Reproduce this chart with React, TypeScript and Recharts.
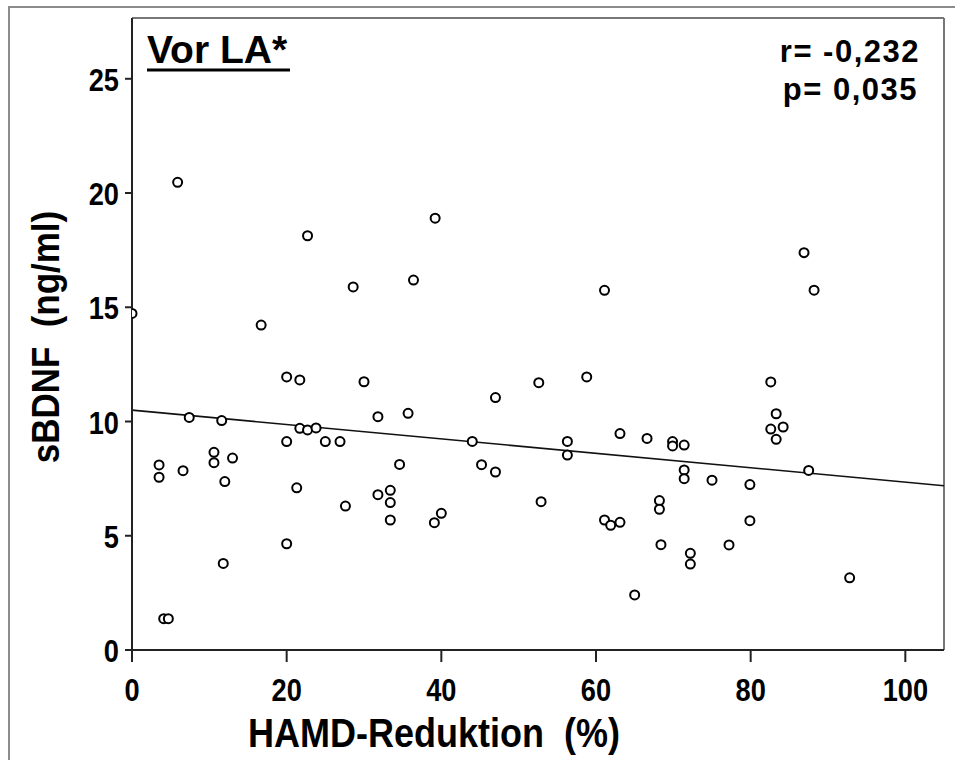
import { ReferenceLine, Scatter, ScatterChart, XAxis, YAxis } from 'recharts';

// HAMD reduction (%) per patient
const hamdReduction = [
    0, 3.5, 3.5, 4.1, 4.7, 5.9, 6.6, 7.4, 10.6, 10.6, 11.6, 11.8, 12.0, 13.0, 16.7, 20.0, 20.0, 20.0, 21.3, 21.7,
    21.7, 22.7, 22.7, 23.8, 25.0, 26.9, 27.6, 28.6, 30.0, 31.8, 31.8, 33.4, 33.4, 33.4, 34.6, 35.7, 36.4, 39.1, 39.2,
    40.0, 44.0, 45.2, 47.0, 47.0, 52.6, 52.9, 56.3, 56.3, 58.8, 61.1, 61.1, 61.9, 63.1, 63.1, 65.0, 66.6, 68.2, 68.2,
    68.4, 69.9, 69.9, 71.4, 71.4, 71.4, 72.2, 72.2, 75.0, 77.2, 79.9, 79.9, 82.6, 82.6, 83.3, 83.3, 84.2, 86.9, 87.5,
    88.2, 92.8,
];

// serum BDNF (ng/ml) before treatment
const sBdnf = [
    14.73, 8.1, 7.56, 1.37, 1.37, 20.47, 7.85, 10.18, 8.65, 8.2, 10.04, 3.79, 7.37, 8.4, 14.22, 11.95, 9.12, 4.65, 7.1,
    11.82, 9.7, 18.13, 9.63, 9.72, 9.12, 9.12, 6.3, 15.89, 11.74, 10.21, 6.8, 6.99, 6.45, 5.69, 8.12, 10.36, 16.19,
    5.57, 18.9, 5.98, 9.13, 8.11, 11.05, 7.79, 11.7, 6.49, 9.13, 8.53, 11.95, 15.74, 5.69, 5.46, 9.47, 5.59, 2.41, 9.26,
    6.54, 6.16, 4.61, 9.12, 8.93, 8.97, 7.88, 7.5, 4.23, 3.76, 7.43, 4.6, 7.24, 5.66, 11.73, 9.67, 10.34, 9.22, 9.76,
    17.39, 7.86, 15.75, 3.16,
];

const xTicks = [0, 20, 40, 60, 80, 100];
const yTicks = [0, 5, 10, 15, 20, 25];
const fitLine = [
    { x: 0, y: 10.5 },
    { x: 105, y: 7.19 },
];

const points = hamdReduction.map((x, i) => ({ x, y: sBdnf[i] }));

const FONT = '"Liberation Sans", Arial, sans-serif';

const Ring = (props: any) => (
    <circle cx={props.cx} cy={props.cy} r={4.5} fill="#fff" stroke="#000" strokeWidth={2} />
);

// condensed bold tick labels like the SPSS output
const XTick = ({ x, y, payload }: any) => (
    <g transform={`translate(${x},${y})`}>
        <text transform="scale(0.85,1)" textAnchor="middle" dy="0.71em" fontSize={32} fontWeight={700} fontFamily={FONT} fill="#000">
            {payload.value}
        </text>
    </g>
);

const YTick = ({ x, y, payload }: any) => (
    <g transform={`translate(${x},${y})`}>
        <text transform="scale(0.85,1)" textAnchor="end" dy="0.38em" fontSize={32} fontWeight={700} fontFamily={FONT} fill="#000">
            {payload.value}
        </text>
    </g>
);

const App = () => {
    return (
        <div style={{ position: 'absolute', left: 0, top: 0, width: 955, height: 760, background: '#fff' }}>
            <div
                style={{
                    position: 'absolute',
                    left: 8,
                    top: 6,
                    width: 947,
                    height: 754,
                    borderTop: '2px solid #8c8c8c',
                    borderLeft: '2px solid #8c8c8c',
                    boxSizing: 'border-box',
                }}
            />
            <ScatterChart
                width={955}
                height={760}
                margin={{ top: 18, right: 11, bottom: 50, left: 72 }}
                style={{ position: 'absolute', left: 0, top: 0 }}
            >
                <XAxis
                    type="number"
                    dataKey="x"
                    domain={[0, 105]}
                    ticks={xTicks}
                    allowDataOverflow
                    height={60}
                    tickSize={12}
                    tickMargin={16}
                    stroke="#222"
                    strokeWidth={2}
                    tick={<XTick />}
                />
                <YAxis
                    type="number"
                    dataKey="y"
                    domain={[0, 27.66]}
                    ticks={yTicks}
                    allowDataOverflow
                    width={60}
                    tickSize={7}
                    tickMargin={6}
                    stroke="#222"
                    strokeWidth={2}
                    tick={<YTick />}
                />
                <ReferenceLine y={27.66} stroke="#777" strokeWidth={2} />
                <ReferenceLine x={105} stroke="#777" strokeWidth={2} />
                <ReferenceLine segment={fitLine} stroke="#111" strokeWidth={1.6} />
                <Scatter data={points} shape={Ring} isAnimationActive={false} />
            </ScatterChart>
            <svg width={955} height={760} style={{ position: 'absolute', left: 0, top: 0, pointerEvents: 'none' }}>
                <g fontFamily={FONT} fontWeight={700} fill="#000">
                    <text x={147} y={63} fontSize={39}>
                        Vor LA*
                    </text>
                    <line x1={147} x2={290} y1={70} y2={70} stroke="#000" strokeWidth={3} />
                    <text x={920} y={62} fontSize={31} letterSpacing={1.5} textAnchor="end">
                        r= -0,232
                    </text>
                    <text x={918} y={100} fontSize={31} letterSpacing={1.5} textAnchor="end">
                        p= 0,035
                    </text>
                    <g transform="translate(434,747) scale(0.9,1)">
                        <text x={0} y={0} fontSize={40} textAnchor="middle">
                            HAMD-Reduktion&#160;&#160;(%)
                        </text>
                    </g>
                    <g transform="translate(59,337) rotate(-90) scale(0.92,1)">
                        <text x={0} y={0} fontSize={38} textAnchor="middle">
                            sBDNF&#160;&#160;(ng/ml)
                        </text>
                    </g>
                </g>
            </svg>
        </div>
    );
};

export default App;
